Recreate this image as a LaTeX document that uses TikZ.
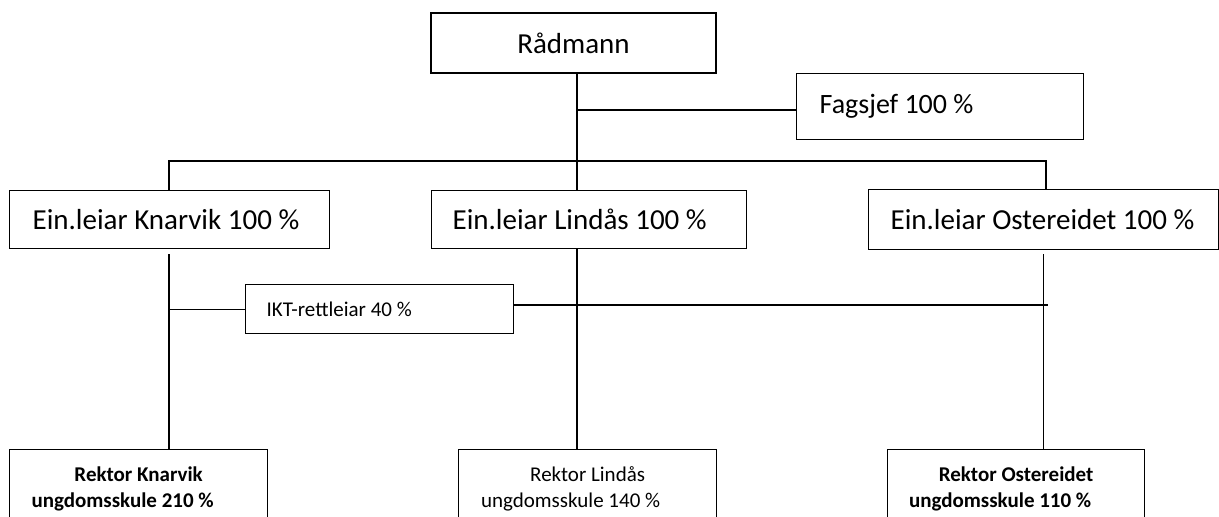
\documentclass[tikz,border=0pt]{standalone}
\usepackage{fontspec}
\setmainfont{Carlito}
\begin{document}
\begin{tikzpicture}[x=1pt,y=-1pt,line width=1.3pt,
  box/.style={draw, line width=1.3pt, inner ysep=0pt, anchor=north west},
  big/.style={font=\fontsize{29}{35}\selectfont},
  mid/.style={font=\fontsize{28}{34}\selectfont},
  small/.style={font=\fontsize{21}{26}\selectfont},
  smallbold/.style={font=\fontsize{21}{26}\selectfont\bfseries},
  leftbox/.style args={#1/#2/#3}{box, minimum height=#2, text width=#1-2*#3, inner xsep=#3, align=flush left}]
\useasboundingbox (0,0) rectangle (1219,517);

% boxes
\node[box, big, anchor=center, minimum width=285pt, minimum height=60pt, inner sep=0pt] (rad) at (573.5,43) {Rådmann};
\node[leftbox={287pt/66pt/23pt}, mid] (fag) at (796,73) {Fagsjef 100 \%};
\node[leftbox={320pt/58pt/23pt}, big] (ek) at (9,190) {Ein.leiar Knarvik 100 \%};
\node[leftbox={315pt/58pt/21pt}, big] (el) at (431,190) {Ein.leiar Lindås 100 \%};
\node[leftbox={350pt/60pt/22pt}, big] (eo) at (868,189) {Ein.leiar Ostereidet 100 \%};
\node[leftbox={268pt/49pt/21pt}, small] (ikt) at (245,284) {IKT-rettleiar 40 \%};
\node[box, minimum width=258pt, minimum height=100pt] (rk) at (9,449) {};
\node[box, minimum width=258pt, minimum height=100pt] (rl) at (458,449) {};
\node[box, minimum width=257pt, minimum height=100pt] (ro) at (887,449) {};

% school leader texts
\node[smallbold, anchor=base] (rk1) at ([yshift=-32pt]rk.north) {Rektor Knarvik};
\node[smallbold, anchor=base] (rk2) at ([xshift=-16pt,yshift=-58pt]rk.north) {ungdomsskule 210 \%};
\node[small, anchor=base] (rl1) at ([yshift=-32pt]rl.north) {Rektor Lindås};
\node[small, anchor=base] (rl2) at ([xshift=-17pt,yshift=-58pt]rl.north) {ungdomsskule 140 \%};
\node[smallbold, anchor=base] (ro1) at ([yshift=-32pt]ro.north) {Rektor Ostereidet};
\node[smallbold, anchor=base] (ro2) at ([xshift=-16pt,yshift=-58pt]ro.north) {ungdomsskule 110 \%};

% line positions
\coordinate (tx) at (577,0);
\coordinate (kx) at (169,0);
\coordinate (ox) at (1046,0);
\coordinate (ox2) at (1043.5,0);
\coordinate (iend) at (1048,0);
\coordinate (fj) at (0,110);
\coordinate (bus) at (0,161);
\coordinate (gap) at (0,254);
\coordinate (ij) at (0,305);

% connectors
\draw (rad.south -| tx) -- (el.north -| tx);
\draw (tx |- fj) -- (fag.west |- fj);
\draw (ek.north -| kx) -- (kx |- bus) -- (ox |- bus) -- (eo.north -| ox);
\draw (kx |- gap) -- (rk.north -| kx);
\draw (el.south -| tx) -- (rl.north -| tx);
\draw (ox2 |- gap) -- (ro.north -| ox2);
\draw (ikt.west -| kx) -- (ikt.west);
\draw (ikt.east |- ij) -- (iend |- ij);
\end{tikzpicture}
\end{document}
